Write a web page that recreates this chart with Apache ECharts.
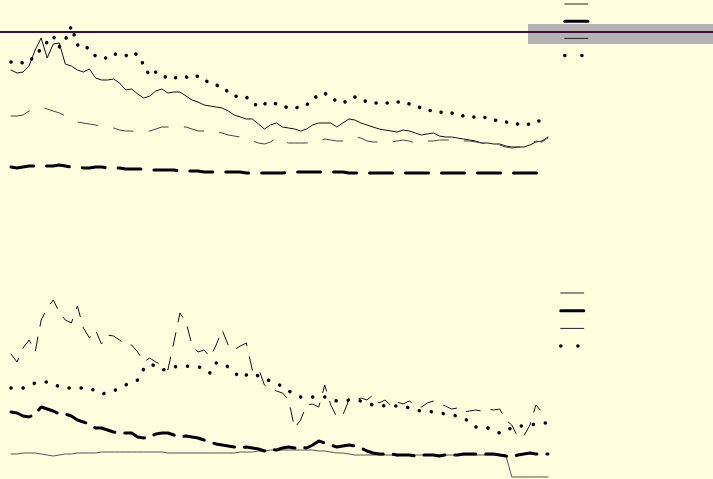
<!DOCTYPE html>
<html>
<head>
<meta charset="utf-8">
<script src="https://cdn.jsdelivr.net/npm/echarts@6/dist/echarts.min.js"></script>
<style>
  html, body { margin: 0; padding: 0; background: #ffffe0; }
  #main { width: 713px; height: 479px; }
</style>
</head>
<body>
<div id="main"></div>
<script>
// valeurs (axes inverses : grand = bas)
var topSolid = [70,73,72,66,50,38,58,44,43,64,66,70,72,69,78,80,80,79,83,90,
  89,94,98,96,91,89,93,92,92,96,100,102,105,106,107,108,111,115,117,119,
  119,124,129,125,123,127,128,129,131,129,125,123,123,123,127,123,119,120,123,125,
  127,129,130,131,132,130,131,133,135,134,133,136,137,137,138,139,140,141,143,143,
  144,144,146,147,147,147,145,142,141,137];
var topThin = [116,116,115,111,109,107,109,111,113,116,119,122,123,124,125,126,127,128,130,131,
  131,132,132,131,129,127,127,127,127,127,129,131,131,131,132,133,135,136,137,139,
  141,143,144,142,138,141,143,143,143,143,142,141,139,140,141,141,139,137,138,141,
  142,142,142,142,141,140,141,143,142,141,141,140,140,140,141,141,141,142,143,144,
  144,145,147,148,147,147,143,141,142,138];
var topThick = [167,168,167,166,166,167,166,166,165,166,167,167,168,168,167,167,168,168,168,169,
  169,169,169,170,170,170,170,170,171,171,171,171,172,172,172,172,172,172,172,173,
  173,173,173,173,173,173,172,172,172,172,172,172,172,172,172,172,173,173,173,173,
  173,173,173,173,173,173,173,173,173,173,173,173,173,173,173,173,173,173,173,173,
  173,173,173,173,173,173,173,173,173,173];
var topDots = [62,62,63,62,55,49,42,36,47,40,26,45,44,50,56,58,58,54,55,56,
  52,55,65,76,72,74,79,78,77,77,78,76,80,83,85,87,92,96,97,97,
  102,107,104,102,104,106,108,108,107,105,99,95,93,98,101,103,100,97,99,102,
  103,103,103,103,102,102,104,106,108,110,111,112,113,113,114,116,117,117,117,118,
  120,121,122,123,124,125,124,121,121,121];

var botSolid = [454,454,453,453,453,454,455,456,455,454,454,453,453,453,453,452,452,452,452,452,
  452,452,452,452,452,452,453,453,453,453,453,453,453,453,453,453,453,453,452,452,
  452,451,451,450,450,450,450,450,450,450,450,451,451,452,453,453,454,455,455,455,
  455,455,455,455,456,455,455,455,455,455,455,455,455,455,455,455,455,455,455,455,
  455,455,455,477,477,477,477,477,477,477];
var botThick = [412,413,416,417,414,407,409,411,414,414,416,420,422,424,428,428,430,432,433,433,
  433,437,438,437,434,433,433,435,437,436,437,438,440,442,444,445,446,447,448,447,
  448,449,451,449,450,448,447,448,447,448,445,441,443,445,447,446,445,446,448,451,
  453,454,454,454,455,455,455,456,455,455,455,456,455,455,455,454,454,454,454,454,
  454,455,456,457,455,454,453,454,454,454];
var botThin = [354,362,348,340,352,320,308,300,312,320,323,306,328,338,330,344,335,336,340,345,
  345,352,362,358,362,365,370,342,313,322,345,352,350,357,345,330,345,350,346,343,
  370,368,385,388,391,393,400,428,420,405,404,407,385,405,417,415,400,400,398,400,
  395,403,400,406,402,404,401,405,407,403,401,404,406,409,408,412,411,410,411,409,
  410,409,420,425,437,436,425,405,412,408];
var botDots = [388,388,388,386,383,382,382,383,387,388,388,388,388,388,391,394,393,391,388,385,
  382,380,369,364,366,370,369,367,366,366,367,367,368,373,363,363,367,372,378,375,
  373,376,379,381,383,387,391,394,397,398,397,397,397,399,401,401,400,400,401,403,
  405,405,406,406,406,406,408,410,411,411,412,413,414,415,416,418,422,427,428,428,
  431,433,432,427,426,426,425,424,423,423];

var names = ['Serie 1', 'Serie 2', 'Serie 3', 'Serie 4'];
var namesBas = ['Serie 5', 'Serie 6', 'Serie 7', 'Serie 8'];

var cats = [];
for (var i = 0; i < topSolid.length; i++) {
    cats.push(i + 1);
}

var myChart = echarts.init(document.getElementById('main'), null, { renderer: 'canvas' });

function ligne(name, data, idx, color, width, dash) {
    return {
        name: name,
        type: 'line',
        xAxisIndex: idx,
        yAxisIndex: idx,
        data: data,
        showSymbol: false,
        symbol: 'none',
        silent: true,
        lineStyle: { color: color, width: width, type: dash, cap: 'round' },
        itemStyle: { color: color }
    };
}

// icones de legende : pas de symbole, trait plein (sauf les points)
function legende(noms, top, left, gap) {
    var cache = { opacity: 0 };
    return {
        orient: 'vertical',
        left: left,
        top: top,
        padding: 0,
        itemWidth: 23,
        itemHeight: 8,
        itemGap: gap,
        formatter: function () { return ''; },
        selectedMode: false,
        data: [
            { name: noms[0], itemStyle: cache, lineStyle: { type: 'solid', width: 1, color: '#222' } },
            { name: noms[1], itemStyle: cache, lineStyle: { type: 'solid', width: 3, color: '#000' } },
            { name: noms[2], itemStyle: cache, lineStyle: { type: 'solid', width: 1, color: '#222' } },
            { name: noms[3], itemStyle: cache, lineStyle: { type: [0.1, 17], width: 3.5, color: '#000' } }
        ]
    };
}

var axeX = function (idx) {
    return { type: 'category', gridIndex: idx, data: cats, boundaryGap: false, show: false };
};

var option = {
    backgroundColor: '#ffffe0',
    animation: false,
    grid: [
        { left: 11, top: 0, width: 537, height: 180 },
        { left: 11, top: 280, width: 537, height: 199 }
    ],
    xAxis: [axeX(0), axeX(1)],
    yAxis: [
        { type: 'value', gridIndex: 0, min: 0, max: 180, inverse: true, show: false },
        { type: 'value', gridIndex: 1, min: 280, max: 479, inverse: true, show: false }
    ],
    legend: [legende(names, 0, 563, 10), legende(namesBas, 289, 559, 10.5)],
    graphic: [
        { type: 'rect', shape: { x: 528, y: 24, width: 185, height: 20 }, style: { fill: '#b3b3b3' }, z: 0 },
        { type: 'line', shape: { x1: 0, y1: 32, x2: 713, y2: 32 }, style: { stroke: '#420a3e', lineWidth: 2 }, z: 10 }
    ],
    series: [
        ligne(names[0], topSolid, 0, '#111', 1, 'solid'),
        ligne(names[1], topThin, 0, '#444', 1, [20, 16]),
        ligne(names[2], topThick, 0, '#000', 3, [23, 13]),
        ligne(names[3], topDots, 0, '#000', 3.5, [0.1, 11]),
        ligne(namesBas[0], botSolid, 1, '#555', 1, 'solid'),
        ligne(namesBas[1], botThick, 1, '#000', 3, [21, 10]),
        ligne(namesBas[2], botThin, 1, '#111', 1, [14, 11]),
        ligne(namesBas[3], botDots, 1, '#000', 3.5, [0.1, 12])
    ]
};

myChart.setOption(option);
window.onresize = myChart.resize;
</script>
</body>
</html>
